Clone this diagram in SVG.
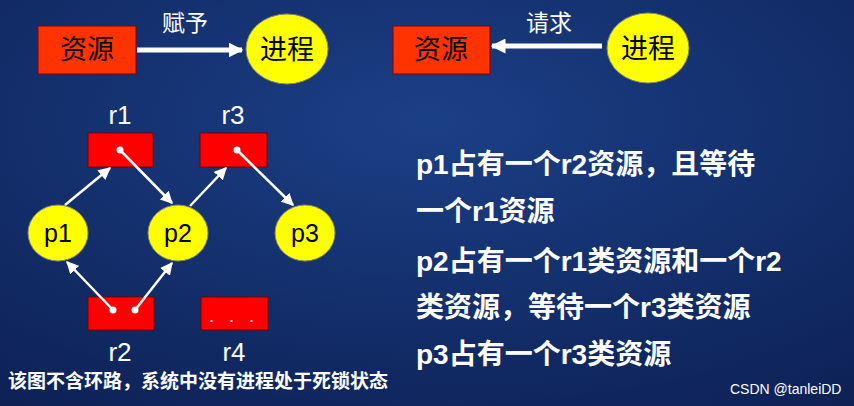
<svg xmlns="http://www.w3.org/2000/svg" width="854" height="406" viewBox="0 0 854 406">
<defs>
<radialGradient id="bg" cx="0.5" cy="0.3" r="0.9"><stop offset="0" stop-color="#1b3f86"/><stop offset="1" stop-color="#0c1f52"/></radialGradient>
<marker id="ah" viewBox="0 0 10 10" refX="9" refY="5" markerWidth="5" markerHeight="5" orient="auto"><path d="M0,0 L10,5 L0,10 z" fill="#fff"/></marker>
<marker id="big" viewBox="0 0 10 10" refX="9" refY="5" markerWidth="3" markerHeight="3" orient="auto"><path d="M0,0 L10,5 L0,10 z" fill="#fff"/></marker>
</defs>
<style>
.res{fill:#ff3300;stroke:#800;stroke-width:1}
.rr{fill:#f00;stroke:#700;stroke-width:1}
.pr{fill:#ffff00;stroke:#886;stroke-width:1}
.cn{font-family:"Noto Sans CJK SC",sans-serif;}
.lab{font-family:"Liberation Sans",sans-serif;font-size:26px;fill:#fff}
.pt{font-family:"Liberation Sans",sans-serif;font-size:25px;fill:#000}
.e{stroke:#fff;stroke-width:2.5;fill:none;marker-end:url(#ah)}
.dot{fill:#fff}
.rt{font-family:"Liberation Sans","Noto Sans CJK SC",sans-serif;font-size:28px;font-weight:bold;fill:#fff}
</style>
<rect width="854" height="406" fill="url(#bg)"/>
<g id="legend1">
<rect class="res" x="38" y="26" width="98" height="48"/>
<text class="cn" x="87" y="59" font-size="27" text-anchor="middle" fill="#000">资源</text>
<ellipse class="pr" cx="287" cy="49" rx="41" ry="35"/>
<text class="cn" x="287" y="59" font-size="27" text-anchor="middle" fill="#000">进程</text>
<text class="cn" x="185" y="31" font-size="23" text-anchor="middle" fill="#fff">赋予</text>
</g>
<g id="legend2">
<rect class="res" x="393" y="26" width="97" height="48"/>
<text class="cn" x="441" y="59" font-size="27" text-anchor="middle" fill="#000">资源</text>
<ellipse class="pr" cx="648" cy="48" rx="41" ry="35"/>
<text class="cn" x="648" y="58" font-size="27" text-anchor="middle" fill="#000">进程</text>
<text class="cn" x="549" y="31" font-size="23" text-anchor="middle" fill="#fff">请求</text>
</g>
<g id="r1"><rect class="rr" x="88" y="133" width="65" height="34"/><text class="lab" x="120" y="124" text-anchor="middle">r1</text></g>
<g id="r3"><rect class="rr" x="200" y="133" width="67" height="34"/><text class="lab" x="233" y="124" text-anchor="middle">r3</text></g>
<g id="r2"><rect class="rr" x="88" y="297" width="66" height="33"/><text class="lab" x="120" y="361" text-anchor="middle">r2</text></g>
<g id="r4"><rect class="rr" x="201" y="297" width="67" height="33"/><text class="lab" x="234" y="361" text-anchor="middle">r4</text><text x="234" y="322" font-family="Liberation Sans,sans-serif" font-size="18" fill="#fff" text-anchor="middle" letter-spacing="5">. . .</text></g>
<g id="p1"><ellipse class="pr" cx="58" cy="233" rx="30" ry="28"/><text class="pt" x="58" y="242" text-anchor="middle">p1</text></g>
<g id="p2"><ellipse class="pr" cx="178" cy="233" rx="30" ry="28"/><text class="pt" x="178" y="242" text-anchor="middle">p2</text></g>
<g id="p3"><ellipse class="pr" cx="305" cy="233" rx="30" ry="28"/><text class="pt" x="305" y="242" text-anchor="middle">p3</text></g>
<g id="connectors">
<line x1="137" y1="50" x2="242" y2="50" stroke="#fff" stroke-width="5" marker-end="url(#big)"/>
<line x1="602" y1="46" x2="492" y2="46" stroke="#fff" stroke-width="5" marker-end="url(#big)"/>
<line class="e" x1="65" y1="205" x2="110" y2="168"/>
<line class="e" x1="120" y1="150" x2="172" y2="203"/>
<line class="e" x1="190" y1="206" x2="226" y2="168"/>
<line class="e" x1="237" y1="150" x2="293" y2="205"/>
<line class="e" x1="113" y1="310" x2="67" y2="262"/>
<line class="e" x1="135" y1="310" x2="172" y2="263"/>
<circle class="dot" cx="120" cy="150" r="3.5"/><circle class="dot" cx="237" cy="150" r="3.5"/>
<circle class="dot" cx="113" cy="310" r="3.5"/><circle class="dot" cx="135" cy="310" r="3.5"/>
</g>
<text class="cn" x="8" y="388" font-size="19" font-weight="bold" fill="#fff">该图不含环路，系统中没有进程处于死锁状态</text>
<text class="rt" x="416" y="174">p1占有一个r2资源，且等待</text>
<text class="rt" x="416" y="221">一个r1资源</text>
<text class="rt" x="416" y="271">p2占有一个r1类资源和一个r2</text>
<text class="rt" x="416" y="317">类资源，等待一个r3类资源</text>
<text class="rt" x="416" y="364">p3占有一个r3类资源</text>
<text x="730" y="394" font-family="Liberation Sans,sans-serif" font-size="14" fill="#fff">CSDN @tanleiDD</text>
</svg>
